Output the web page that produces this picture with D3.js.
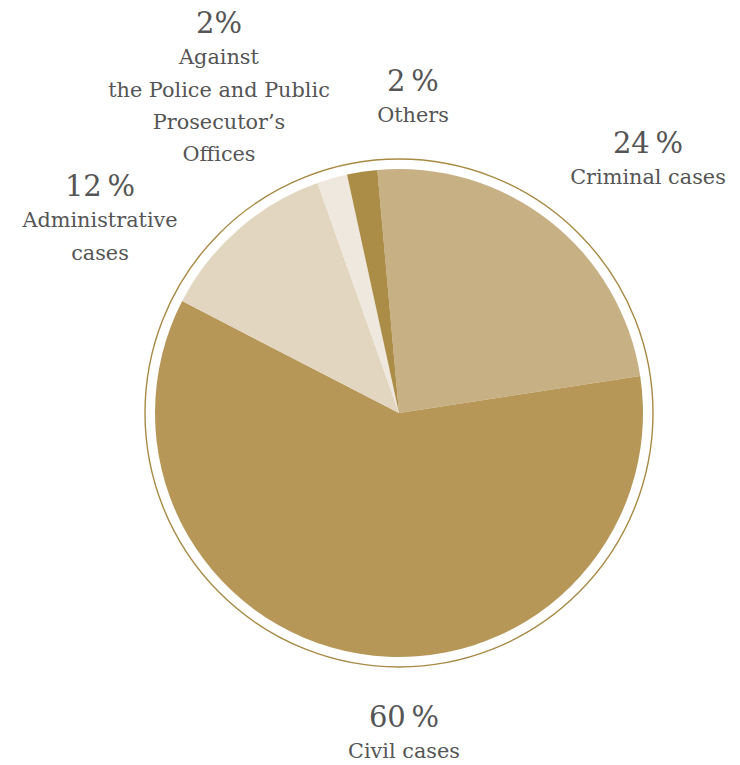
<!DOCTYPE html>
<html><head><meta charset="utf-8">
<script src="https://cdn.jsdelivr.net/npm/d3@7"></script>
<style>
html,body{margin:0;padding:0;background:#fff;}
svg{display:block;}
</style></head>
<body>
<svg id="chart" width="740" height="765"></svg>
<script>
const categories = ["Criminal cases", "Civil cases", "Administrative cases", "Against the Police and Public Prosecutor’s Offices", "Others"];
const values = [24, 60, 12, 2, 2];
const percentLabels = ["24\u202F%", "60\u202F%", "12\u202F%", "2%", "2\u202F%"];
const labelLines = [
  ["Criminal cases"],
  ["Civil cases"],
  ["Administrative", "cases"],
  ["Against", "the Police and Public", "Prosecutor’s", "Offices"],
  ["Others"]
];
const colors = ["#c8b085", "#b69758", "#e2d6c0", "#efe8de", "#ab8d47"];
// label anchor: [x, baseline y of percent]
const labelPos = [[648, 153], [404, 727], [100, 196], [219, 33], [413, 91]];

const svg = d3.select("#chart");
const cx = 399, cy = 413, r = 244, ringR = 254;

const pie = d3.pie().sort(null).value(d => d)
  .startAngle(-5.1 * Math.PI / 180)
  .endAngle(-5.1 * Math.PI / 180 + 2 * Math.PI);
const arc = d3.arc().innerRadius(0).outerRadius(r);

const g = svg.append("g").attr("transform", `translate(${cx},${cy})`);
g.append("circle").attr("r", ringR).attr("fill", "none")
  .attr("stroke", "#a88a45").attr("stroke-width", 1.4);
g.selectAll("path").data(pie(values)).join("path")
  .attr("d", arc).attr("fill", (d, i) => colors[i]);

const font = "'DejaVu Serif', serif";
labelPos.forEach((p, i) => {
  svg.append("text").attr("x", p[0]).attr("y", p[1])
    .attr("text-anchor", "middle").attr("fill", "#555")
    .style("font-family", font).style("font-size", "29px")
    .text(percentLabels[i]);
  labelLines[i].forEach((line, j) => {
    svg.append("text").attr("x", p[0]).attr("y", p[1] + 32 * (j + 1) - (j === 0 ? 1 : 0))
      .attr("text-anchor", "middle").attr("fill", "#555")
      .style("font-family", font).style("font-size", "20.8px")
      .text(line);
  });
});
</script>
</body></html>
